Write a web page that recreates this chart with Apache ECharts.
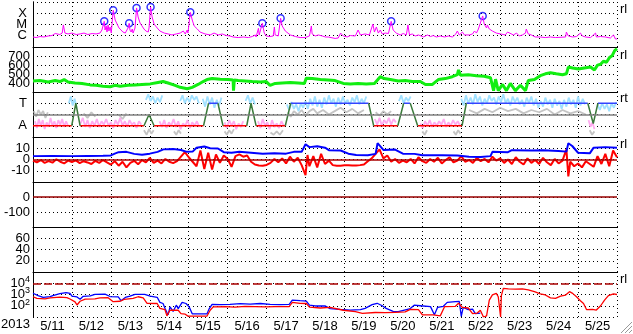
<!DOCTYPE html>
<html><head><meta charset="utf-8">
<script src="https://cdn.jsdelivr.net/npm/echarts@6/dist/echarts.min.js"></script>
<style>html,body{margin:0;padding:0;background:#fff}#c{width:633px;height:334px}</style>
</head><body><div id="c"></div>
<script>
// ---------- DATA ----------
const dayLabels = ['5/11','5/12','5/13','5/14','5/15','5/16','5/17','5/18','5/19','5/20','5/21','5/22','5/23','5/24','5/25'];
const yearLabel = '2013';
const panelMarks = ['rl','rl','rt','rl','','','rl'];

// X-ray flux, [day since 5/11 00UT, log10(W/m2)]
const xrayLog = [[0.00,-6.11],[0.08,-6.16],[0.18,-6.07],[0.28,-6.11],[0.39,-6.02],[0.49,-5.98],[0.57,-5.80],[0.62,-5.93],[0.69,-5.89],[0.75,-5.76],[0.78,-5.04],[0.82,-5.76],[0.90,-5.84],[1.00,-5.76],[1.11,-5.89],[1.21,-5.84],[1.31,-5.76],[1.41,-5.89],[1.52,-5.80],[1.62,-5.84],[1.72,-5.76],[1.77,-5.49],[1.83,-4.72],[1.85,-5.49],[1.88,-5.13],[1.90,-5.67],[1.93,-5.04],[1.95,-5.58],[1.98,-5.22],[2.01,-5.76],[2.06,-3.74],[2.11,-4.60],[2.16,-4.96],[2.21,-5.31],[2.26,-5.49],[2.31,-5.67],[2.37,-5.76],[2.42,-5.80],[2.44,-5.31],[2.47,-4.89],[2.49,-5.49],[2.52,-5.67],[2.55,-5.40],[2.57,-5.76],[2.60,-5.49],[2.62,-5.31],[2.66,-3.53],[2.70,-4.33],[2.75,-4.87],[2.80,-5.13],[2.85,-5.40],[2.90,-5.58],[2.96,-5.67],[2.98,-5.31],[3.02,-3.44],[3.06,-4.33],[3.11,-4.96],[3.19,-5.31],[3.26,-5.58],[3.37,-5.76],[3.47,-5.84],[3.57,-5.93],[3.68,-5.84],[3.78,-5.76],[3.86,-5.58],[3.91,-5.84],[3.96,-5.49],[3.98,-5.76],[4.04,-3.92],[4.09,-4.60],[4.14,-5.13],[4.22,-5.40],[4.29,-5.67],[4.42,-5.84],[4.55,-5.93],[4.65,-5.76],[4.76,-5.93],[4.86,-5.84],[4.96,-5.98],[5.06,-6.02],[5.14,-6.11],[5.27,-6.16],[5.40,-6.11],[5.53,-6.16],[5.63,-6.07],[5.71,-5.93],[5.73,-6.11],[5.79,-5.34],[5.81,-5.93],[5.84,-5.84],[5.89,-4.89],[5.94,-5.76],[5.99,-6.02],[6.09,-6.07],[6.17,-6.02],[6.20,-5.22],[6.22,-5.93],[6.30,-6.02],[6.36,-4.45],[6.40,-5.13],[6.48,-5.58],[6.61,-5.93],[6.74,-6.07],[6.86,-6.16],[6.99,-6.16],[7.10,-6.02],[7.15,-5.13],[7.17,-5.84],[7.25,-6.02],[7.33,-5.93],[7.38,-5.76],[7.43,-6.02],[7.51,-6.11],[7.58,-6.11],[7.63,-6.24],[7.76,-6.24],[7.84,-6.20],[7.89,-6.11],[7.90,-5.76],[7.97,-6.02],[8.07,-6.11],[8.15,-5.98],[8.28,-6.02],[8.35,-5.49],[8.41,-5.93],[8.53,-5.84],[8.64,-5.93],[8.73,-4.96],[8.77,-5.67],[8.82,-5.22],[8.87,-5.76],[8.92,-5.49],[8.97,-5.84],[9.05,-5.76],[9.13,-5.80],[9.20,-4.72],[9.25,-5.49],[9.33,-5.76],[9.43,-5.93],[9.51,-5.80],[9.59,-5.93],[9.63,-5.04],[9.67,-5.93],[9.74,-5.84],[9.82,-6.02],[9.90,-5.93],[9.95,-6.02],[10.03,-6.11],[10.13,-5.93],[10.21,-6.07],[10.28,-5.98],[10.36,-6.11],[10.46,-6.02],[10.57,-6.11],[10.67,-6.02],[10.77,-6.11],[10.85,-5.89],[10.90,-5.58],[10.95,-5.93],[11.03,-5.67],[11.08,-5.93],[11.13,-5.76],[11.21,-5.93],[11.29,-5.84],[11.34,-5.58],[11.39,-5.76],[11.44,-5.40],[11.49,-5.31],[11.55,-4.24],[11.59,-4.96],[11.65,-5.31],[11.67,-5.04],[11.72,-5.40],[11.80,-5.58],[11.90,-5.76],[12.01,-5.84],[12.13,-5.93],[12.19,-5.67],[12.24,-5.84],[12.34,-5.93],[12.42,-5.76],[12.49,-6.02],[12.57,-5.93],[12.65,-5.76],[12.67,-5.40],[12.72,-5.84],[12.80,-5.93],[12.90,-6.11],[13.03,-6.11],[13.16,-6.16],[13.29,-6.11],[13.42,-6.16],[13.68,-6.11],[13.70,-5.67],[13.75,-6.02],[13.86,-6.11],[13.96,-6.07],[14.06,-5.76],[14.11,-6.02],[14.19,-6.11],[14.32,-6.16],[14.45,-5.76],[14.47,-6.11],[14.58,-6.07],[14.70,-6.11],[14.83,-6.20],[14.91,-5.93],[14.96,-6.29],[15.00,-6.29]];
const flareLog = [[1.83,-4.72],[2.06,-3.74],[2.47,-4.89],[2.66,-3.53],[3.02,-3.44],[4.04,-3.92],[5.89,-4.89],[6.36,-4.45],[9.20,-4.72],[11.55,-4.24]];

// Solar wind speed (km/s)
const speed = [[0.00,422],[0.18,427],[0.39,411],[0.57,427],[0.69,416],[0.80,438],[0.90,411],[1.08,400],[1.26,395],[1.47,379],[1.62,374],[1.80,363],[1.98,358],[2.11,374],[2.24,363],[2.44,374],[2.62,379],[2.80,384],[3.01,390],[3.21,406],[3.34,416],[3.47,400],[3.65,374],[3.78,352],[3.96,336],[4.09,352],[4.24,384],[4.37,416],[4.47,438],[4.60,449],[4.81,443],[5.01,438],[5.14,433],[5.15,315],[5.17,433],[5.27,427],[5.45,422],[5.63,416],[5.84,411],[5.99,416],[6.09,374],[6.22,395],[6.40,400],[6.61,406],[6.81,400],[6.97,395],[7.02,454],[7.17,449],[7.38,438],[7.58,433],[7.76,427],[7.97,395],[8.15,390],[8.35,395],[8.56,390],[8.77,395],[8.92,470],[9.02,449],[9.18,438],[9.38,422],[9.56,427],[9.74,416],[9.95,416],[10.08,384],[10.26,384],[10.41,438],[10.59,449],[10.77,470],[10.90,492],[10.93,545],[10.98,486],[11.18,492],[11.39,481],[11.59,475],[11.75,459],[11.83,315],[11.88,443],[11.95,315],[12.06,384],[12.16,315],[12.26,395],[12.39,315],[12.52,374],[12.65,315],[12.72,427],[12.88,438],[13.03,481],[13.16,502],[13.29,513],[13.44,502],[13.60,492],[13.70,502],[13.75,577],[13.86,567],[14.01,556],[14.16,567],[14.32,577],[14.42,545],[14.50,599],[14.58,609],[14.65,642],[14.73,631],[14.81,684],[14.88,706],[14.94,760],[15.00,781]];

// Sector polarity: T = +1, A = -1
const polarity = [[0,-1],[0.995,-1],[1.10,1],[1.21,-1],[2.85,-1],[2.98,0],[3.11,-1],[4.38,-1],[4.51,1],[4.75,1],[4.88,-1],[5.49,-1],[5.60,1],[5.73,-1],[6.48,-1],[6.62,1],[8.62,1],[8.75,-1],[9.37,-1],[9.52,1],[9.69,1],[9.88,-1],[11.02,-1],[11.13,1],[14.25,1],[14.39,-0.8],[14.51,1],[15,1]];
const pinkPts = [[0.05,-0.6],[0.1,-1.2],[0.15,-0.4],[0.2,-1.0],[0.25,-0.5],[0.3,-1.3],[0.35,-0.7],[0.4,-1.1],[0.45,-0.3],[0.5,-1.0],[0.55,-0.6],[0.6,-1.2],[0.65,-0.5],[0.7,-0.9],[0.75,-0.4],[0.8,-1.1],[0.85,-0.6],[0.9,-1.0],null,
[1.22,-0.8],[1.28,-0.3],[1.34,-1.1],[1.40,-0.5],[1.46,-1.2],[1.52,-0.6],[1.58,-1.0],[1.64,-0.4],[1.70,-1.1],[1.76,-0.6],[1.82,-0.9],[1.88,-0.4],[1.94,-1.0],[2.00,-0.7],[2.06,-1.2],[2.12,-0.5],[2.18,-0.9],[2.24,-0.3],[2.30,-1.0],[2.36,-0.6],[2.42,-1.1],[2.48,-0.5],[2.54,-0.9],[2.60,-0.7],[2.66,-1.2],[2.72,-0.6],[2.78,-0.9],null,
[3.25,-0.6],[3.31,-1.1],[3.37,-0.5],[3.43,-1.2],[3.49,-0.7],[3.55,-1.0],[3.61,-0.4],[3.67,-1.1],[3.73,-0.6],[3.79,-1.3],[3.85,-0.8],[3.91,-1.0],[3.97,-0.5],[4.03,-1.2],[4.09,-0.7],[4.15,-1.0],[4.21,-0.6],[4.27,-1.1],null,
[4.92,-0.7],[4.98,-1.2],[5.04,-0.5],[5.10,-1.0],[5.16,-0.6],[5.22,-1.3],[5.28,-0.8],[5.34,-1.1],[5.40,-0.6],null,
[5.78,-0.6],[5.84,-1.2],[5.90,-0.4],[5.96,-1.0],[6.02,-0.7],[6.08,-1.3],[6.14,-0.5],[6.20,-1.1],[6.26,-0.8],[6.32,-1.2],[6.38,-0.6],[6.44,-1.0],null,
[8.78,-0.4],[8.84,-0.9],[8.90,-0.3],[8.96,-1.0],[9.02,-0.5],[9.08,-0.8],[9.14,-0.3],[9.20,-0.9],[9.26,-0.4],[9.32,-0.7],null,
[9.95,-0.8],[10.01,-1.2],[10.07,-0.6],[10.13,-1.0],[10.19,-0.5],[10.25,-1.1],[10.31,-0.7],[10.37,-1.0],[10.43,-0.6],[10.49,-0.9],[10.55,-0.4],[10.61,-1.1],[10.67,-0.7],[10.73,-1.0],[10.79,-0.5],[10.85,-0.9],[10.91,-0.6],[10.97,-1.0],null,
[14.27,-0.5],[14.32,-1.1],[14.37,-0.7],[14.42,-1.3]];
const cyanPts = [[0.92,1.0],[0.97,1.6],[1.02,0.8],[1.07,1.4],[1.12,0.6],null,
[2.9,1.3],[2.96,1.8],[3.02,1.2],[3.08,1.6],[3.14,1.0],[3.2,1.5],[3.26,1.1],[3.32,1.7],null,
[3.78,1.2],[3.84,1.7],[3.90,1.0],[3.96,1.5],[4.02,1.1],[4.08,1.7],[4.14,1.3],[4.20,1.6],[4.26,1.0],null,
[4.36,1.4],[4.42,0.7],[4.48,1.6],[4.54,0.9],[4.60,1.5],[4.66,0.6],[4.72,1.3],[4.78,0.8],[4.84,1.5],null,
[5.46,1.2],[5.52,1.7],[5.58,1.0],[5.64,1.5],[5.70,0.9],null,
[6.52,0.9],[6.58,0.4],[6.64,1.1],[6.70,0.5],[6.76,0.9],[6.82,0.3],[6.88,1.0],[6.94,0.6],[7.00,1.2],[7.06,0.5],[7.12,1.4],[7.18,0.8],[7.24,1.6],[7.30,0.7],[7.36,1.3],[7.42,0.6],[7.48,1.5],[7.54,0.9],[7.60,1.7],[7.66,1.0],[7.72,1.4],[7.78,0.7],[7.84,1.5],[7.90,0.9],[7.96,1.6],[8.02,1.0],[8.08,1.3],[8.14,0.8],[8.20,1.5],[8.26,1.1],[8.32,1.7],[8.38,0.9],[8.44,1.4],[8.50,1.0],[8.56,1.6],null,
[9.40,1.2],[9.46,1.7],[9.52,1.0],[9.58,1.5],[9.64,1.2],[9.70,1.6],null,
[11.00,1.4],[11.06,0.8],[11.12,1.7],[11.18,1.0],[11.24,1.5],[11.30,0.9],[11.36,1.8],[11.42,1.1],[11.48,1.6],[11.54,0.8],[11.60,1.4],[11.66,1.0],[11.72,1.7],[11.78,1.2],[11.84,1.5],[11.90,0.9],[11.96,1.6],[12.02,1.1],[12.08,1.8],[12.14,1.0],[12.20,1.4],[12.26,0.8],[12.32,1.6],[12.38,1.1],[12.44,1.5],[12.50,0.9],[12.56,1.3],[12.62,0.7],[12.68,1.5],[12.74,1.0],[12.80,1.6],[12.86,0.8],[12.92,1.4],[12.98,0.6],[13.04,1.2],[13.10,0.7],[13.16,1.5],[13.22,0.9],[13.28,1.3],[13.34,0.6],[13.40,1.4],[13.46,0.8],[13.52,1.2],[13.58,0.5],[13.64,1.3],[13.70,0.7],[13.76,1.5],[13.82,0.9],[13.88,1.3],[13.94,0.6],[14.00,1.6],[14.06,0.8],[14.12,1.4],[14.18,0.9],null,
[14.50,0.9],[14.56,0.4],[14.62,1.0],[14.68,0.5],[14.74,0.9],[14.80,0.3],[14.86,1.0],[14.92,0.6],[14.98,1.1]];
const grayPts = [[0.02,0.3],[0.08,-0.2],[0.14,0.4],[0.2,0.0],[0.26,0.3],[0.32,-0.3],[0.38,0.2],null,
[1.3,0.1],[1.4,-0.3],[1.5,0.2],[1.6,-0.2],null,[2.2,0.0],[2.3,-0.4],[2.4,0.1],null,
[2.85,-1.4],[2.92,-1.8],[2.98,-1.3],[3.04,-1.7],[3.10,-1.4],null,
[3.62,-1.5],[3.68,-1.8],[3.74,-1.4],[3.80,-1.7],null,
[4.92,-1.5],[4.98,-1.8],[5.04,-1.4],[5.10,-1.7],[5.16,-1.3],null,
[6.10,-1.6],[6.18,-1.8],[6.26,-1.5],[6.34,-1.8],[6.42,-1.4],null,
[6.55,0.2],[6.62,-0.2],[6.70,0.3],[6.80,0.0],[6.9,0.4],[7.0,-0.1],[7.1,0.3],[7.2,0.5],[7.3,0.1],[7.45,0.4],[7.6,0.0],[7.75,0.3],[7.9,0.6],[8.05,0.2],[8.2,0.5],[8.35,0.1],[8.5,0.4],null,
[8.8,0.2],[8.9,-0.1],[9.0,0.3],[9.1,0.0],[9.2,0.3],null,
[10.0,-1.5],[10.06,-1.8],[10.12,-1.4],null,[10.8,-1.5],[10.86,-1.8],[10.92,-1.4],[10.98,-1.7],null,
[11.2,0.4],[11.4,0.1],[11.6,0.5],[11.8,0.2],[12.0,0.6],[12.2,0.3],[12.4,0.5],[12.6,0.1],[12.8,0.4],[13.0,0.2],[13.2,0.5],[13.4,0.0],[13.6,0.4],[13.8,0.1],[14.0,0.3],[14.2,0.0],null,
[14.3,-1.4],[14.36,-1.8],[14.42,-1.5]];

// IMF (nT)
const bt = [[0,3],[0.5,3.2],[1.0,3.0],[1.4,3.2],[1.8,3.4],[2.0,3.6],[2.1,5.2],[2.2,6.5],[2.4,6.8],[2.6,5.0],[2.8,4.2],[3.0,5.2],[3.2,6.8],[3.35,9.0],[3.6,9.3],[3.8,8.5],[3.95,6.8],[4.1,7.0],[4.2,10.4],[4.4,11.5],[4.55,10.0],[4.75,9.8],[4.9,6.5],[5.1,6.0],[5.3,6.8],[5.6,6.0],[5.9,5.2],[6.2,5.5],[6.5,5.2],[6.7,6.8],[6.9,6.8],[7.0,13.5],[7.1,11.0],[7.3,11.8],[7.5,10.5],[7.6,8.3],[7.9,8.0],[8.1,5.2],[8.3,4.0],[8.6,3.7],[8.8,5.0],[8.85,14.5],[9.0,8.5],[9.3,8.8],[9.5,5.2],[9.8,5.0],[10.0,3.7],[10.5,3.7],[10.9,3.5],[11.2,2.5],[11.5,2.2],[11.75,3.0],[11.8,6.8],[12.2,6.5],[12.3,8.3],[12.8,8.0],[13.1,8.3],[13.5,7.5],[13.7,7.0],[13.75,14.5],[13.85,12.0],[14.0,6.0],[14.3,5.5],[14.4,10.5],[14.7,11.0],[15.0,10.5]];
const bz = [[0.0,-1],[0.1,-2.5],[0.2,-0.5],[0.3,-3],[0.4,-1.5],[0.5,-2.8],[0.6,0.2],[0.7,-2],[0.8,-3.5],[0.9,-1],[1.0,-2.2],[1.1,-0.8],[1.2,-3.2],[1.3,-1.5],[1.4,-2.6],[1.5,-4],[1.6,-1.2],[1.7,-3],[1.8,-0.5],[1.9,-2.5],[2.0,-4.5],[2.1,-1.5],[2.2,-5.5],[2.3,-2],[2.4,-7],[2.5,-3],[2.6,-1.2],[2.7,-4.2],[2.8,-0.5],[2.9,-2.5],[3.0,1.5],[3.1,-3],[3.2,-1],[3.3,-3.5],[3.4,0.5],[3.5,-2],[3.6,-3.2],[3.7,-1.5],[3.8,2.5],[3.9,6.5],[4.0,2],[4.1,-2],[4.2,-6],[4.3,8],[4.4,-8.5],[4.5,6],[4.6,-9],[4.7,4.5],[4.8,-3],[4.9,3.5],[5.0,0.5],[5.1,-6.5],[5.2,3],[5.3,4.5],[5.4,2.5],[5.5,3.5],[5.6,-2],[5.7,-4.5],[5.8,-5.3],[5.9,-5.5],[6.0,-4.8],[6.1,-3],[6.2,0.5],[6.3,-2.5],[6.4,1],[6.5,-3.5],[6.6,2.5],[6.7,-2],[6.8,1.5],[6.9,-5],[7.0,-14],[7.05,4],[7.1,-6],[7.2,3],[7.3,-7],[7.4,5],[7.5,-4],[7.6,-1],[7.7,-5],[7.8,-5.5],[7.9,-5.5],[8.0,-5.2],[8.1,-5.2],[8.2,-5.3],[8.3,-5.3],[8.4,-5],[8.5,-4.5],[8.6,-1.5],[8.7,1],[8.8,5],[8.9,9],[9.0,1],[9.1,3.5],[9.2,-2],[9.3,0.5],[9.4,-3],[9.5,-1],[9.6,-2.5],[9.7,0.5],[9.8,-3.5],[9.9,2],[10.0,-1.5],[10.1,-3],[10.2,0.5],[10.3,-2],[10.4,1.5],[10.5,-3.5],[10.6,-0.5],[10.7,2],[10.8,-2.5],[10.9,-1],[11.0,3],[11.1,-2],[11.2,-0.5],[11.3,-3],[11.4,1.5],[11.5,-1.5],[11.6,0.5],[11.7,-2.5],[11.8,2.5],[11.9,-1],[12.0,1],[12.1,-3],[12.2,0],[12.3,-4],[12.4,2],[12.5,-2],[12.6,-4.5],[12.7,1],[12.8,-3],[12.9,-0.5],[13.0,-4],[13.1,1.5],[13.2,-2.5],[13.3,-5],[13.4,0.5],[13.5,-3.5],[13.6,-1],[13.7,9],[13.75,-15],[13.8,-2],[13.9,-6],[14.0,-3.5],[14.1,-7],[14.2,-1.5],[14.3,-4],[14.4,-6.5],[14.5,3],[14.6,-4],[14.7,5],[14.8,-6],[14.9,8],[15.0,2]];

// Particle flux, log10
const fluxBlueLog = [[0.00,3.11],[0.13,2.9],[0.26,2.75],[0.44,2.82],[0.51,2.9],[0.69,3.08],[0.85,3.17],[0.95,3.1],[1.00,2.85],[1.13,2.78],[1.21,2.57],[1.29,2.84],[1.47,2.88],[1.59,3.02],[1.85,3.03],[1.98,2.82],[2.19,2.78],[2.26,2.45],[2.37,2.74],[2.49,2.85],[2.62,3.02],[2.87,3.02],[3.01,2.85],[3.19,2.75],[3.26,2.3],[3.34,2.2],[3.39,1.77],[3.44,1.4],[3.47,1.2],[3.52,1.9],[3.60,1.5],[3.68,2.05],[3.73,1.75],[3.83,2.3],[3.93,2.2],[4.01,1.9],[4.09,1.28],[4.29,1.27],[4.47,1.28],[4.52,1.7],[4.60,2.13],[4.81,2.1],[5.06,2.13],[5.32,2.18],[5.58,2.15],[5.84,2.2],[6.09,2.13],[6.35,2.1],[6.58,2.12],[6.66,2.5],[6.86,2.45],[7.02,2.42],[7.10,2.05],[7.25,1.98],[7.51,1.98],[7.63,1.75],[7.89,1.68],[8.15,1.62],[8.41,1.65],[8.53,1.77],[8.71,2.1],[8.84,2.22],[8.97,2.0],[9.07,1.77],[9.25,1.5],[9.38,1.47],[9.54,1.62],[9.69,1.75],[9.79,2.05],[9.95,2.0],[10.21,1.92],[10.31,1.2],[10.39,1.85],[10.54,1.95],[10.64,2.3],[10.85,2.36],[10.95,2.38],[11.00,1.05],[11.05,1.85],[11.18,1.65],[11.29,1.7],[11.36,1.3],[11.49,1.35]];
const fluxRedLog = [[0.00,2.8],[0.10,2.66],[0.31,2.62],[0.44,2.7],[0.69,2.76],[0.87,2.72],[0.95,2.6],[1.08,2.35],[1.13,2.07],[1.21,2.4],[1.34,2.58],[1.59,2.62],[1.72,2.7],[1.93,2.72],[2.06,2.36],[2.24,2.4],[2.34,2.57],[2.57,2.65],[2.70,2.8],[2.83,2.7],[2.93,2.22],[3.19,2.2],[3.26,1.77],[3.39,1.65],[3.44,1.1],[3.52,1.62],[3.73,1.6],[3.80,1.3],[3.91,1.25],[3.98,1.08],[4.29,1.07],[4.47,1.09],[4.55,1.6],[4.63,1.9],[4.94,1.92],[5.19,1.88],[5.45,1.95],[5.71,1.93],[5.96,1.9],[6.22,1.92],[6.58,1.92],[6.66,2.3],[6.86,2.22],[7.02,2.2],[7.10,1.88],[7.38,1.8],[7.63,1.85],[7.97,1.6],[8.28,1.47],[8.46,1.32],[8.79,1.4],[9.05,1.38],[9.31,1.42],[9.56,1.45],[9.69,1.68],[9.90,1.65],[10.00,1.2],[10.28,1.18],[10.46,1.1],[10.57,1.92],[10.85,1.95],[10.93,2.22],[11.03,1.85],[11.18,1.8],[11.29,1.3],[11.41,1.35],[11.49,1.6],[11.57,1.0],[11.65,1.1],[11.72,2.5],[11.80,2.96],[11.90,3.1],[11.95,2.8],[12.01,1.0],[12.03,2.9],[12.08,3.55],[12.21,3.5],[12.39,3.48],[12.57,3.5],[12.72,3.42],[12.88,3.25],[13.03,3.05],[13.16,2.96],[13.29,2.7],[13.42,2.66],[13.55,2.85],[13.68,2.95],[13.78,3.25],[13.86,3.1],[13.96,2.8],[14.06,2.45],[14.14,2.2],[14.22,1.65],[14.37,1.68],[14.47,1.62],[14.58,2.0],[14.68,2.5],[14.78,2.9],[14.91,3.05],[15.00,3.0]];

// ---------- BUILD ----------
const FONT = '"Liberation Sans", Arial, sans-serif';
const dotted = {type:[1,3], color:'#000', width:1};
const tops = [2,47,92,137,182,227,272];
const pow = a => a.map(p => [p[0], Math.pow(10, p[1])]);
const gaps = a => a.map((p,i) => p === null ? [a[i-1][0], '-'] : p);
function polSeg(pts){
  const out = {r:[], b:[], g:[]};
  for (let i=0;i<pts.length-1;i++){
    const a=pts[i], c=pts[i+1];
    const k = (a[1]===-1&&c[1]===-1)?'r':(a[1]===1&&c[1]===1)?'b':'g';
    const arr = out[k];
    if (arr.length) arr.push([a[0],'-']);
    arr.push(a, c);
  }
  return out;
}
const pol = polSeg(polarity);

const grids = tops.map(t => ({left:33, right:16, top:t, height:45}));
const xAxes = tops.map((t,i) => ({type:'value', gridIndex:i, min:0, max:15, interval:1,
  axisLine:{show:i<6, onZero:false, lineStyle:{color:'#000', width:1}},
  axisTick:{show:false}, axisLabel:{show:false}, splitLine:{show:true, lineStyle:dotted}}));
xAxes.push({type:'category', gridIndex:6, data:dayLabels, boundaryGap:true, position:'bottom',
  axisLine:{show:false}, axisTick:{show:false}, splitLine:{show:false},
  axisLabel:{interval:0, color:'#000', fontSize:13, fontFamily:FONT, margin:3}});

function lab(fmt, margin){ return {color:'#000', fontSize:13, fontFamily:FONT, margin:margin, formatter:fmt, showMinLabel:true, showMaxLabel:true}; }
const base = {axisLine:{show:true, onZero:false, lineStyle:{color:'#000'}}, axisTick:{show:false}, splitLine:{show:true, lineStyle:dotted}};
const yAxes = [
  Object.assign({}, base, {gridIndex:0, type:'log', logBase:10, min:1e-7, max:1e-3,
    axisLabel: lab(v => {const e=Math.round(Math.log10(v)); return e===-4?'X':e===-5?'M':e===-6?'C':'';}, 6)}),
  Object.assign({}, base, {gridIndex:1, type:'value', min:300, max:800, interval:100,
    axisLabel: lab(v => (v>=400&&v<=700)?String(v):'', 3)}),
  Object.assign({}, base, {gridIndex:2, type:'value', min:-2, max:2, interval:1,
    axisLabel: lab(v => v===1?'T':v===-1?'A':'', 6)}),
  Object.assign({}, base, {gridIndex:3, type:'value', min:-20, max:20, interval:10,
    axisLabel: lab(v => Math.abs(v)<=10?String(v):'', 3)}),
  Object.assign({}, base, {gridIndex:4, type:'value', min:-200, max:100, interval:100,
    axisLabel: lab(v => (v===0||v===-100)?String(v):'', 3)}),
  Object.assign({}, base, {gridIndex:5, type:'value', min:0, max:80, interval:20,
    axisLabel: lab(v => (v>=20&&v<=60)?String(v):'', 3)}),
  Object.assign({}, base, {gridIndex:6, type:'log', logBase:10, min:10, max:1e5,
    axisLabel: Object.assign(lab(v => {const e=Math.round(Math.log10(v)); return (e>=2&&e<=4)?'10{s|'+e+'}':'';}, 3),
      {rich:{s:{fontSize:9, fontFamily:FONT, color:'#000', verticalAlign:'top', padding:[0,0,7,0]}}})})
];
tops.forEach((t,i) => yAxes.push({type:'value', gridIndex:i, position:'right', min:0, max:1,
  axisLine:{show:true, lineStyle:{color:'#000'}}, axisTick:{show:false}, axisLabel:{show:false}, splitLine:{show:false}}));

const ml = (vals, style) => ({symbol:'none', silent:true, label:{show:false}, animation:false, lineStyle:style, data:vals.map(v=>({yAxis:v}))});
const ln = (xi, data, color, width, extra) => Object.assign({type:'line', xAxisIndex:xi, yAxisIndex:xi, data:data, symbol:'none', silent:true, lineStyle:{color:color, width:width}}, extra||{});

const series = [
  ln(0, pow(xrayLog), '#ff00ff', 1),
  {type:'scatter', xAxisIndex:0, yAxisIndex:0, data:pow(flareLog), symbol:'circle', symbolSize:7, silent:true,
   itemStyle:{color:'rgba(0,0,0,0)', borderColor:'#0000ff', borderWidth:1.5}},
  ln(1, speed, '#11ee11', 3),
  ln(2, gaps(grayPts), '#c4c4c4', 1.8, {markLine: ml([0], {color:'#808080', width:1.5, type:'solid'})}),
  ln(2, gaps(pinkPts), '#ffaaf0', 1.8),
  ln(2, gaps(cyanPts), '#a0e0ff', 1.8),
  ln(2, pol.r, '#ff0000', 1.5),
  ln(2, pol.b, '#3344ff', 1.5),
  ln(2, pol.g, '#3a7a3a', 1.5),
  ln(3, bz, '#ff0000', 2, {markLine: ml([0], {color:'#aa0000', width:1.5, type:'solid'})}),
  ln(3, bt, '#0000ff', 2),
  ln(4, [], '#000', 1, {markLine: ml([0], {color:'#990000', width:1.5, type:'solid'})}),
  ln(6, pow(fluxBlueLog), '#0000ff', 1.3, {markLine: ml([1e4], {color:'#aa0000', width:1.5, type:[8,3]})}),
  ln(6, pow(fluxRedLog), '#ff0000', 1.3)
];

const markY = [11, 57, 100, 146, 0, 0, 281];
const graphic = [{type:'text', left:1, top:318, style:{text:yearLabel, fontSize:13, fontFamily:FONT, fill:'#000'}}];
panelMarks.forEach((m,i) => { if (m) graphic.push({type:'text', left:620, top:markY[i]-8, style:{text:m, fontSize:13, fontFamily:FONT, fill:'#000'}}); });
[[621,333,632,322],[625,333,632,326],[629,333,632,330]].forEach(s => graphic.push({type:'line', shape:{x1:s[0],y1:s[1],x2:s[2],y2:s[3]}, style:{stroke:'#999', lineWidth:1}}));

const chart = echarts.init(document.getElementById('c'), null, {renderer:'canvas'});
chart.setOption({animation:false, backgroundColor:'#fff', grid:grids, xAxis:xAxes, yAxis:yAxes, series:series, graphic:graphic});
</script></body></html>
